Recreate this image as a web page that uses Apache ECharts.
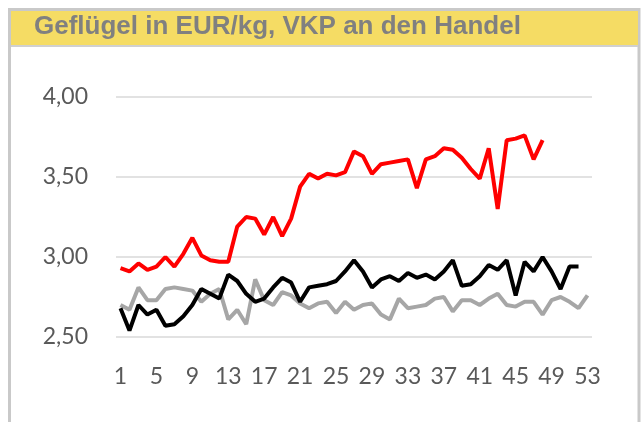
<!DOCTYPE html>
<html>
<head>
<meta charset="utf-8">
<style>
  html, body { margin: 0; padding: 0; background: #fff; }
  #main { width: 641px; height: 422px; }
</style>
<script src="https://cdn.jsdelivr.net/npm/echarts@6/dist/echarts.min.js"></script>
</head>
<body>
<div id="main"></div>
<script>
var weeks = ['1', '2', '3', '4', '5', '6', '7', '8', '9', '10',
  '11', '12', '13', '14', '15', '16', '17', '18', '19', '20',
  '21', '22', '23', '24', '25', '26', '27', '28', '29', '30',
  '31', '32', '33', '34', '35', '36', '37', '38', '39', '40',
  '41', '42', '43', '44', '45', '46', '47', '48', '49', '50',
  '51', '52', '53'];

// rote Linie
var redValues = [2.93, 2.91, 2.96, 2.92, 2.94, 3.00, 2.94, 3.02, 3.12, 3.01,
  2.98, 2.97, 2.97, 3.19, 3.25, 3.24, 3.14, 3.25, 3.13, 3.24,
  3.44, 3.52, 3.49, 3.52, 3.51, 3.53, 3.66, 3.63, 3.52, 3.58,
  3.59, 3.60, 3.61, 3.43, 3.61, 3.63, 3.68, 3.67, 3.62, 3.55,
  3.49, 3.68, 3.30, 3.73, 3.74, 3.76, 3.61, 3.73];

// schwarze Linie
var blackValues = [2.68, 2.54, 2.70, 2.64, 2.67, 2.57, 2.58, 2.63, 2.70, 2.80,
  2.77, 2.74, 2.89, 2.85, 2.77, 2.72, 2.74, 2.81, 2.87, 2.84,
  2.72, 2.81, 2.82, 2.83, 2.85, 2.91, 2.98, 2.91, 2.81, 2.86,
  2.88, 2.85, 2.90, 2.87, 2.89, 2.86, 2.91, 2.98, 2.82, 2.83,
  2.88, 2.95, 2.92, 2.98, 2.76, 2.97, 2.91, 3.00, 2.91, 2.80,
  2.94, 2.94];

// graue Linie
var grayValues = [2.70, 2.67, 2.81, 2.73, 2.73, 2.80, 2.81, 2.80, 2.79, 2.72,
  2.77, 2.80, 2.61, 2.67, 2.58, 2.86, 2.73, 2.70, 2.78, 2.76,
  2.71, 2.68, 2.71, 2.72, 2.65, 2.72, 2.67, 2.70, 2.71, 2.64,
  2.61, 2.74, 2.68, 2.69, 2.70, 2.74, 2.75, 2.66, 2.73, 2.73,
  2.70, 2.74, 2.77, 2.70, 2.69, 2.72, 2.72, 2.64, 2.73, 2.75,
  2.72, 2.68, 2.76];

var chart = echarts.init(document.getElementById('main'));

var labelFont = 'Lato, "Open Sans", sans-serif';

var option = {
  animation: false,
  backgroundColor: '#fff',
  graphic: [
    {
      type: 'rect',
      shape: { x: 9.5, y: 9.5, width: 629.5, height: 420 },
      style: { fill: '#fff', stroke: '#c9c9c9', lineWidth: 3 },
      z: -10
    },
    {
      type: 'rect',
      shape: { x: 11, y: 11, width: 627, height: 34 },
      style: { fill: '#f5dc64' },
      z: -9
    },
    {
      type: 'rect',
      shape: { x: 11, y: 45, width: 627, height: 2 },
      style: { fill: '#d0d0d0' },
      z: -9
    },
    {
      type: 'text',
      left: 34,
      top: 14,
      style: {
        text: 'Geflügel in EUR/kg, VKP an den Handel',
        fill: '#808080',
        font: 'bold 26px "Liberation Sans", Arial, sans-serif'
      }
    }
  ],
  grid: {
    left: 116,
    right: 49,
    top: 97,
    bottom: 85
  },
  xAxis: {
    type: 'category',
    data: weeks,
    boundaryGap: true,
    axisLine: { show: false },
    axisTick: { show: false },
    axisLabel: {
      interval: 3,
      margin: 28,
      color: '#595959',
      fontFamily: labelFont,
      fontSize: 23
    }
  },
  yAxis: {
    type: 'value',
    min: 2.5,
    max: 4.0,
    interval: 0.5,
    axisLine: { show: false },
    axisTick: { show: false },
    axisLabel: {
      margin: 28,
      color: '#595959',
      fontFamily: labelFont,
      fontSize: 23,
      formatter: function (v) {
        return v.toFixed(2).replace('.', ',');
      }
    },
    splitLine: {
      lineStyle: { color: '#d9d9d9', width: 1.5 }
    }
  },
  series: [
    {
      name: 'grau',
      type: 'line',
      data: grayValues,
      symbol: 'none',
      lineStyle: { color: '#a6a6a6', width: 4 },
      z: 2
    },
    {
      name: 'schwarz',
      type: 'line',
      data: blackValues,
      symbol: 'none',
      lineStyle: { color: '#000000', width: 4 },
      z: 3
    },
    {
      name: 'rot',
      type: 'line',
      data: redValues,
      symbol: 'none',
      lineStyle: { color: '#ff0000', width: 4 },
      z: 4
    }
  ]
};

chart.setOption(option);
</script>
</body>
</html>
